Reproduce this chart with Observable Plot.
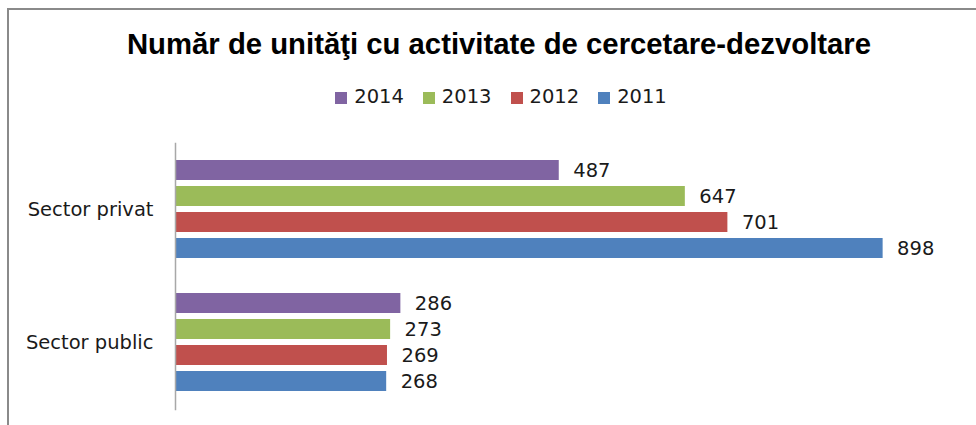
<!DOCTYPE html>
<html>
<head>
<meta charset="utf-8">
<script src="https://cdn.jsdelivr.net/npm/d3@7"></script>
<script src="https://cdn.jsdelivr.net/npm/@observablehq/plot@0.6"></script>
<style>
  html, body { margin: 0; padding: 0; background: #fff; }
  #wrap { position: relative; width: 976px; height: 425px; overflow: hidden; }
  #border { position: absolute; left: 7px; top: 8px; width: 1200px; height: 800px;
            border-left: 2px solid #8a8a8a; border-top: 2px solid #8a8a8a; }
  #title { position: absolute; left: 11px; top: 28.5px; width: 976px; text-align: center;
           font-family: "Liberation Sans", Arial, sans-serif; font-weight: bold; font-size: 29.3px;
           line-height: 29px; color: #000; white-space: nowrap; }
  #legend { position: absolute; left: 13px; top: 86.5px; width: 976px; display: flex; justify-content: center;
            font-family: "DejaVu Sans", sans-serif; font-size: 19.5px; line-height: 20px; color: #1a1a1a; }
  .item { display: flex; align-items: center; margin: 0 9.5px; }
  .sw { width: 12px; height: 12px; margin-right: 7px; position: relative; top: 1.5px; }
  #chart { position: absolute; left: 0; top: 120px; }
</style>
</head>
<body>
<div id="wrap">
  <div id="border"></div>
  <div id="title"></div>
  <div id="legend"></div>
  <div id="chart"></div>
</div>
<script>
const titleText = "Număr de unităţi cu activitate de cercetare-dezvoltare";
const sectors = ["Sector privat", "Sector public"];
const years = ["2014", "2013", "2012", "2011"];
const privatValues = [487, 647, 701, 898];
const publicValues = [286, 273, 269, 268];
const colors = ["#8064A2", "#9BBB59", "#C0504D", "#4F81BD"];

const rows = [];
years.forEach((y, i) => rows.push({sector: sectors[0], year: y, value: privatValues[i]}));
years.forEach((y, i) => rows.push({sector: sectors[1], year: y, value: publicValues[i]}));

document.getElementById("title").textContent = titleText;
const legend = document.getElementById("legend");
years.forEach((y, i) => {
  const it = document.createElement("div");
  it.className = "item";
  const sw = document.createElement("span");
  sw.className = "sw";
  sw.style.background = colors[i];
  const t = document.createElement("span");
  t.textContent = y;
  it.appendChild(sw); it.appendChild(t);
  legend.appendChild(it);
});

const chart = Plot.plot({
  width: 976,
  height: 305,
  marginTop: 23,
  marginBottom: 16,
  marginLeft: 175,
  marginRight: 13,
  style: {fontFamily: "DejaVu Sans, sans-serif", fontSize: "19.5px", color: "#1a1a1a", background: "transparent"},
  x: {domain: [0, 1000], axis: null},
  y: {domain: years, paddingInner: 0.222, paddingOuter: 0.111, axis: null},
  fy: {domain: sectors, paddingInner: 0.194, paddingOuter: 0.0896, label: null, axis: "left", tickSize: 0, tickPadding: 22},
  color: {domain: years, range: colors},
  marks: [
    Plot.barX(rows, {x: "value", y: "year", fy: "sector", fill: "year"}),
    Plot.text(rows, {x: "value", y: "year", fy: "sector", text: d => String(d.value), textAnchor: "start", dx: 14, fill: "#1a1a1a"}),
    Plot.frame({facet: "super", anchor: "left", stroke: "#a8a8a8", strokeWidth: 1.5, insetTop: -13, insetBottom: -13})
  ]
});
document.getElementById("chart").appendChild(chart);
</script>
</body>
</html>
